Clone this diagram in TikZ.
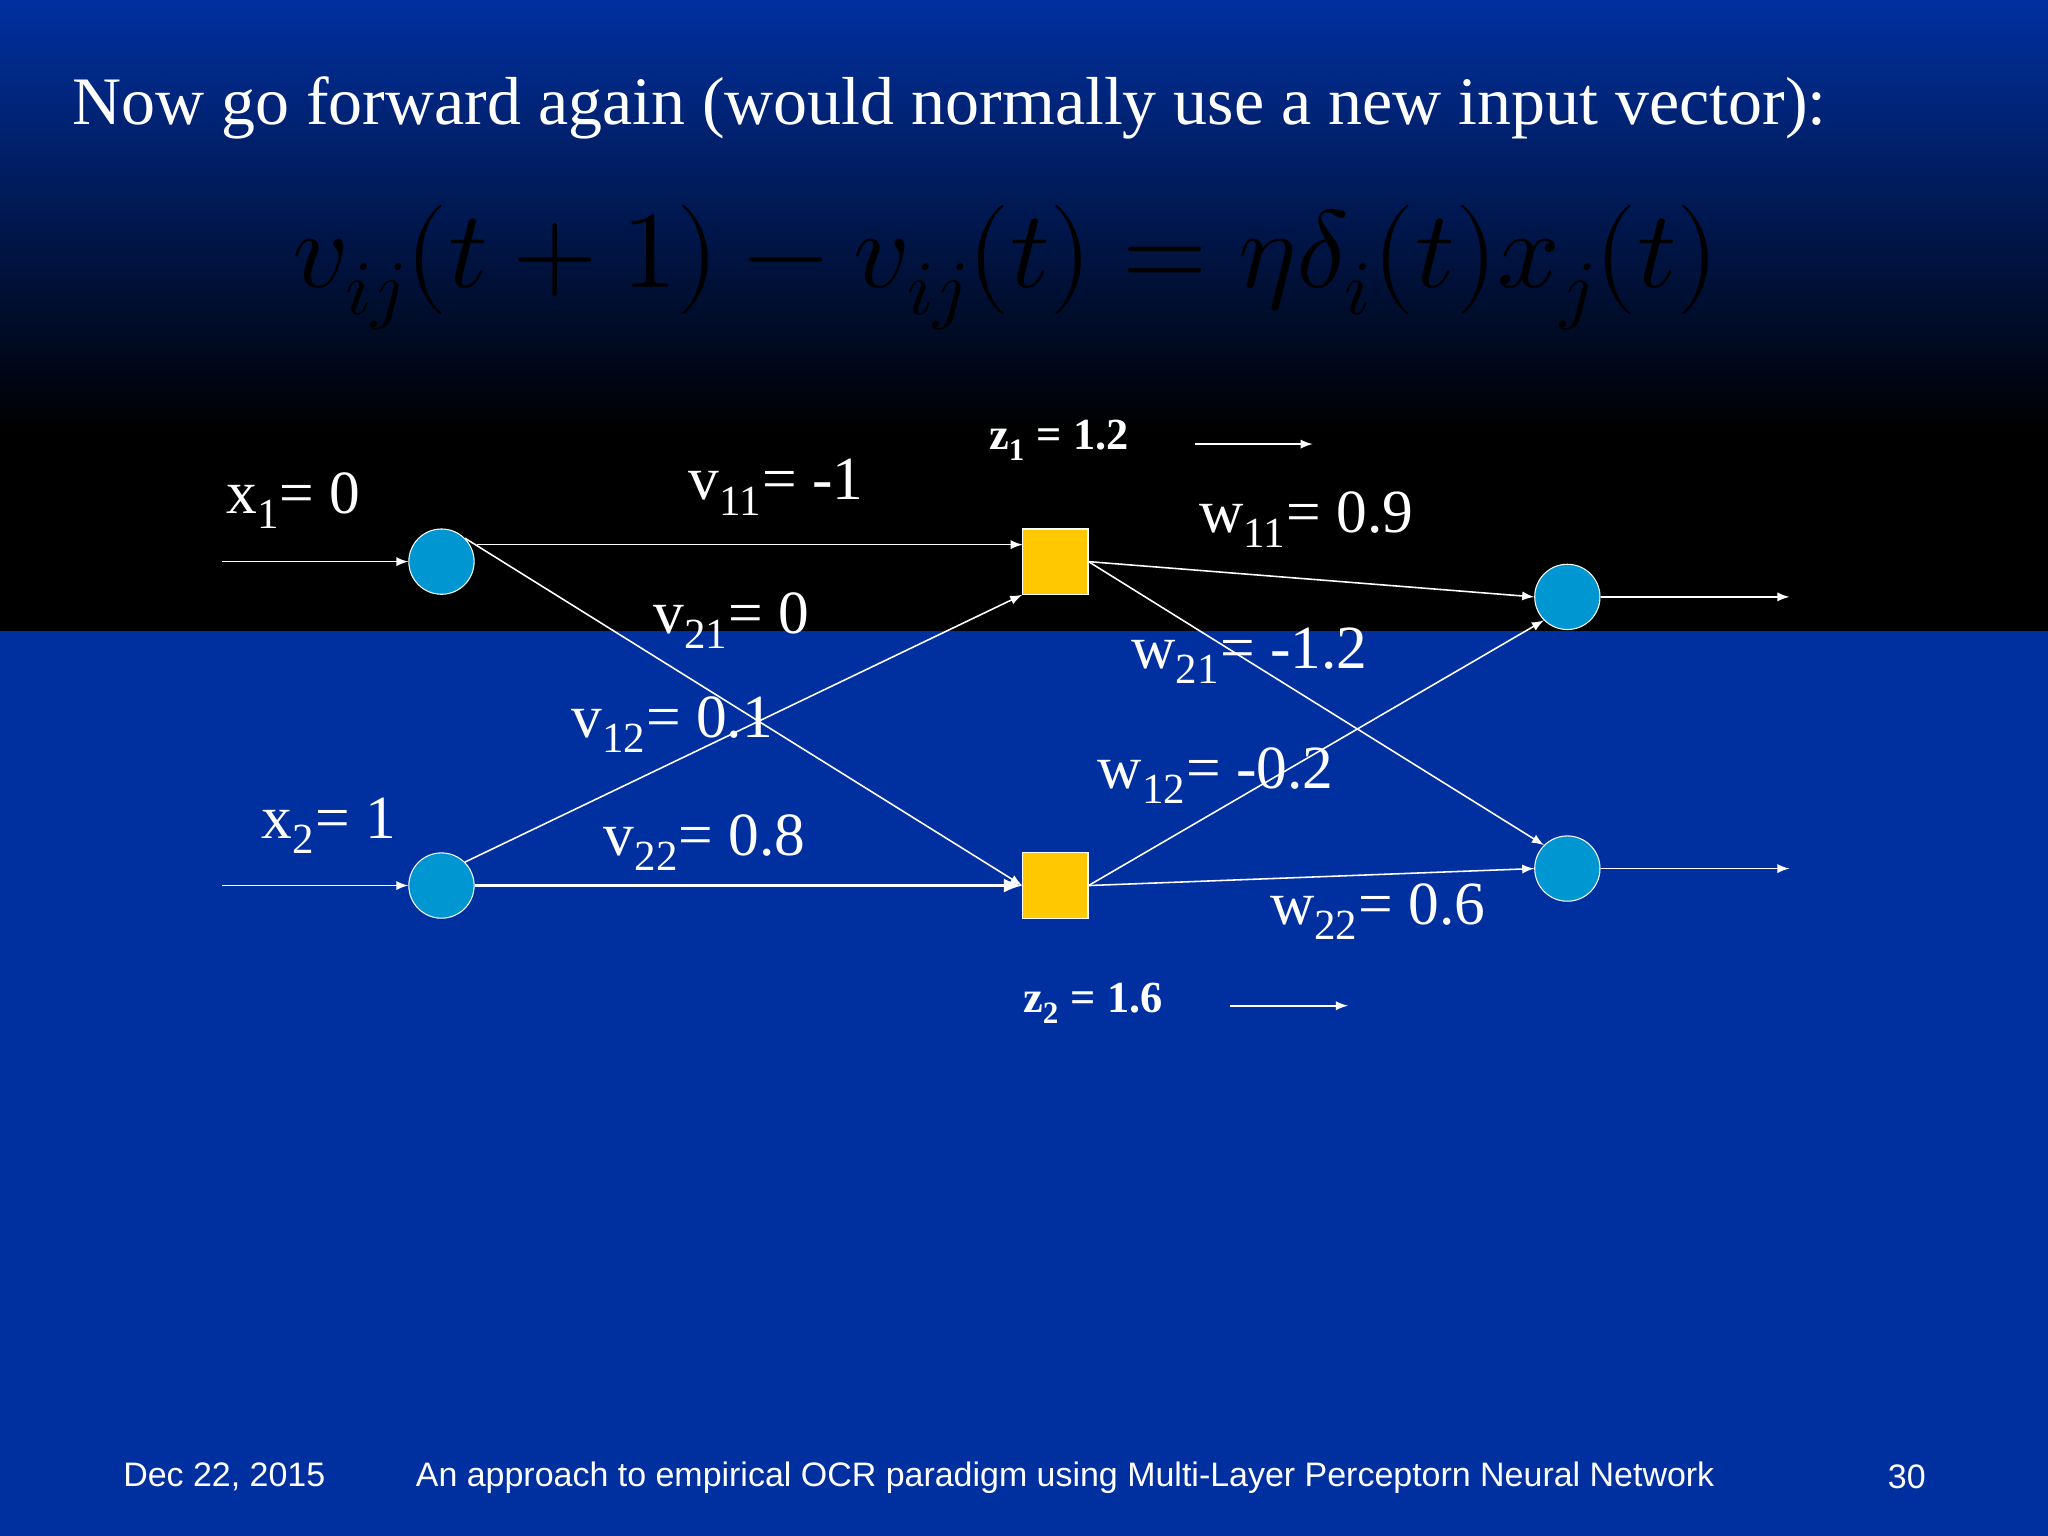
\documentclass[tikz,border=0pt]{standalone}
\usepackage{fontspec}
\setmainfont{Liberation Serif}
\setsansfont{Liberation Sans}
\usepackage{unicode-math}
\setmathfont{Latin Modern Math}
\newcommand{\sbx}[1]{\textsubscript{#1}}
\begin{document}
\begin{tikzpicture}[x=0.5pt,y=-0.5pt,
  inn/.style={circle,draw=white,fill={rgb,255:red,0;green,150;blue,210},minimum size=25pt,inner sep=0pt},
  hid/.style={rectangle,draw=white,fill={rgb,255:red,255;green,200;blue,0},minimum size=25pt,inner sep=0pt},
  con/.style={white,-latex,line width=0.6pt},
  lab/.style={white,font=\fontsize{23.5}{25}\selectfont,inner sep=0pt,anchor=west},
  zlab/.style={white,font=\bfseries\fontsize{17}{18}\selectfont,inner sep=0pt,anchor=west}]
\definecolor{bg}{RGB}{0,48,160}
\useasboundingbox (0,0) rectangle (1568,1176);
\fill[bg] (0,0) rectangle (1568,1176);
\shade[top color=bg,bottom color=black] (0,0) rectangle (1568,330);
\fill[black] (0,329) rectangle (1568,483);
\node[white,anchor=west,font=\fontsize{26}{28}\selectfont,inner sep=0pt] (title) at (55,83) {Now go forward again (would normally use a new input vector):};
\node[black,font=\fontsize{42}{44}\selectfont,inner sep=0pt] (eq) at (770,205) {$v_{ij}(t+1)-v_{ij}(t)=\eta\delta_i(t)x_j(t)$};
\node[inn] (x1) at (338,430) {};
\node[inn] (x2) at (338,678) {};
\node[hid] (h1) at (808,430) {};
\node[hid] (h2) at (808,678) {};
\node[inn] (o1) at (1200,457) {};
\node[inn] (o2) at (1200,665) {};
\coordinate (i1) at (170,430); \coordinate (i2) at (170,678);
\coordinate (e1) at (1370,457); \coordinate (e2) at (1370,665);
\draw[con] (i1) -- (x1); \draw[con] (i2) -- (x2);
\draw[con] (o1) -- (e1); \draw[con] (o2) -- (e2);
\coordinate (x1t) at (365,417); \coordinate (h1t) at (783,417);
\draw[con] (x1t) -- (h1t);
\draw[con] (x1.north east) -- (h2.west);
\draw[con] (x2.north east) -- (h1.south west);
\draw[con,line width=1.4pt] (x2.east) -- (h2.west);
\draw[con] (h1.east) -- (o1.west);
\draw[con] (h1.east) -- (o2.north west);
\draw[con] (h2.east) -- (o1.south west);
\draw[con] (h2.east) -- (o2.west);
\coordinate (za) at (915,340); \coordinate (zb) at (1005,340);
\coordinate (zc) at (942,770); \coordinate (zd) at (1032,770);
\draw[con] (za) -- (zb); \draw[con] (zc) -- (zd);
\node[zlab] (z1) at (757,337) {z\sbx{1} = 1.2};
\node[zlab] (z2) at (783,768) {z\sbx{2} = 1.6};
\node[lab] (lx1) at (173,383) {x\sbx{1}= 0};
\node[lab] (lx2) at (200,632) {x\sbx{2}= 1};
\node[lab] (v11) at (527,373) {v\sbx{11}= -1};
\node[lab] (v21) at (500,475) {v\sbx{21}= 0};
\node[lab] (v12) at (437,555) {v\sbx{12}= 0.1};
\node[lab] (v22) at (462,645) {v\sbx{22}= 0.8};
\node[lab] (w11) at (918,398) {w\sbx{11}= 0.9};
\node[lab] (w21) at (866,502) {w\sbx{21}= -1.2};
\node[lab] (w12) at (840,594) {w\sbx{12}= -0.2};
\node[lab] (w22) at (972,698) {w\sbx{22}= 0.6};
\node[white,font=\sffamily\fontsize{13}{15}\selectfont,anchor=west,inner sep=0pt] (d) at (94,1131) {Dec 22, 2015};
\node[white,font=\sffamily\fontsize{13}{15}\selectfont,anchor=west,inner sep=0pt] (f) at (318,1131) {An approach to empirical OCR paradigm using Multi-Layer Perceptorn Neural Network};
\node[white,font=\sffamily\fontsize{13}{15}\selectfont,anchor=west,inner sep=0pt] (p) at (1445,1131) {30};
\end{tikzpicture}
\end{document}
